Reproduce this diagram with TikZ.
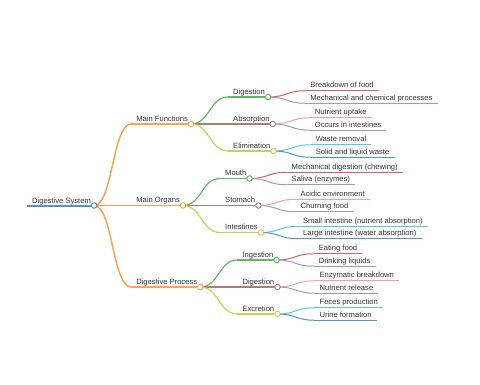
\documentclass[tikz,border=0pt]{standalone}
\usepackage{fontspec}
\setmainfont{Liberation Sans}
\usetikzlibrary{calc}
\pgfdeclarelayer{bg}
\pgfsetlayers{bg,main}
\definecolor{kA}{HTML}{1F77B4}
\definecolor{kB}{HTML}{FF7F0E}
\definecolor{kC}{HTML}{2CA02C}
\definecolor{kD}{HTML}{D62728}
\definecolor{kE}{HTML}{9467BD}
\definecolor{kF}{HTML}{8C564B}
\definecolor{kG}{HTML}{E377C2}
\definecolor{kH}{HTML}{7F7F7F}
\definecolor{kI}{HTML}{BCBD22}
\definecolor{kJ}{HTML}{17BECF}
\colorlet{cA}{kA!78!white}
\colorlet{cB}{kB!72!white}
\colorlet{cC}{kC!75!white}
\colorlet{cD}{kD!75!white}
\colorlet{cE}{kE!75!white}
\colorlet{cF}{kF!75!white}
\colorlet{cG}{kG!75!white}
\colorlet{cH}{kH!75!white}
\colorlet{cI}{kI!75!white}
\colorlet{cJ}{kJ!75!white}
\definecolor{txt}{HTML}{333333}
% link from parent circle (#1) to child start (#2), style #3
\newcommand\mmlink[3]{%
  \draw[#3] let \p1=(#1), \p2=(#2), \p3=($(\p1)!0.5!(\p2)$) in
    (\p1) .. controls (\x3,\y1) and (\x3,\y2) .. (\p2);}
% inner node: name, parent, dy, colour, width, text
\newcommand\mmnode[6]{%
  \coordinate (#1s) at ($(#2)+(37,#3)$);
  \node[lbl] (#1) at ($(#1s)+(5,-3)$) {#6};
  \node[dot,draw=#4] (#1c) at ($(#1.base east)+(3,3)$) {};
  \begin{pgfonlayer}{bg}
    \mmlink{#2.center}{#1s}{#4,line width=#5}
    \draw[#4,line width=#5] (#1s) -- (#1c.center);
  \end{pgfonlayer}}
% leaf: name, parent, dy, colour, text
\newcommand\mmleaf[5]{%
  \coordinate (#1s) at ($(#2)+(37,#3)$);
  \node[lbl] (#1) at ($(#1s)+(5,-3)$) {#5};
  \coordinate (#1e) at ($(#1.base east)+(5,3)$);
  \begin{pgfonlayer}{bg}
    \mmlink{#2.center}{#1s}{#4,line width=1pt}
    \draw[#4,line width=1pt] (#1s) -- (#1e);
  \end{pgfonlayer}}
\begin{document}
\begin{tikzpicture}[x=1pt,y=-1pt,
  lbl/.style={anchor=base west,inner sep=0pt,font=\fontsize{7.6}{9}\selectfont,text=txt},
  dot/.style={circle,fill=white,inner sep=0pt,minimum size=5.5pt,line width=1pt}]
\useasboundingbox (0,0) rectangle (480,384);
% root
\coordinate (roots) at (27,205.5);
\node[lbl] (root) at (32,203) {Digestive System};
\node[dot,draw=cA] (rootc) at ($(root.base east)+(3,2.5)$) {};
\begin{pgfonlayer}{bg}
  \draw[cA,line width=2pt] (roots) -- (rootc.center);
\end{pgfonlayer}
% level 1
\mmnode{mf}{rootc}{-81.5}{cB}{1.5pt}{Main Functions}
\mmnode{mo}{rootc}{0}{cB}{1.5pt}{Main Organs}
\mmnode{dp}{rootc}{81.5}{cB}{1.5pt}{Digestive Process}
% level 2
\mmnode{dig}{mfc}{-27}{cC}{1.2pt}{Digestion}
\mmnode{abs}{mfc}{0}{cF}{1.2pt}{Absorption}
\mmnode{eli}{mfc}{27}{cI}{1.2pt}{Elimination}
\mmnode{mou}{moc}{-27}{cC}{1.2pt}{Mouth}
\mmnode{sto}{moc}{0}{cF}{1.2pt}{Stomach}
\mmnode{int}{moc}{27}{cI}{1.2pt}{Intestines}
\mmnode{ing}{dpc}{-27}{cC}{1.2pt}{Ingestion}
\mmnode{dig2}{dpc}{0}{cF}{1.2pt}{Digestion}
\mmnode{exc}{dpc}{27}{cI}{1.2pt}{Excretion}
% leaves
\mmleaf{la}{digc}{-6.25}{cD}{Breakdown of food}
\mmleaf{lb}{digc}{6.25}{cE}{Mechanical and chemical processes}
\mmleaf{lc}{absc}{-6.25}{cG}{Nutrient uptake}
\mmleaf{ld}{absc}{6.25}{cH}{Occurs in intestines}
\mmleaf{le}{elic}{-6.25}{cJ}{Waste removal}
\mmleaf{lf}{elic}{6.25}{cA}{Solid and liquid waste}
\mmleaf{lg}{mouc}{-6.25}{cD}{Mechanical digestion (chewing)}
\mmleaf{lh}{mouc}{6.25}{cE}{Saliva (enzymes)}
\mmleaf{li}{stoc}{-6.25}{cG}{Acidic environment}
\mmleaf{lj}{stoc}{6.25}{cH}{Churning food}
\mmleaf{lk}{intc}{-6.25}{cJ}{Small intestine (nutrient absorption)}
\mmleaf{ll}{intc}{6.25}{cA}{Large intestine (water absorption)}
\mmleaf{lm}{ingc}{-6.25}{cD}{Eating food}
\mmleaf{ln}{ingc}{6.25}{cE}{Drinking liquids}
\mmleaf{lo}{dig2c}{-6.25}{cG}{Enzymatic breakdown}
\mmleaf{lp}{dig2c}{6.25}{cH}{Nutrient release}
\mmleaf{lq}{excc}{-6.25}{cJ}{Feces production}
\mmleaf{lr}{excc}{6.25}{cA}{Urine formation}
\end{tikzpicture}
\end{document}
